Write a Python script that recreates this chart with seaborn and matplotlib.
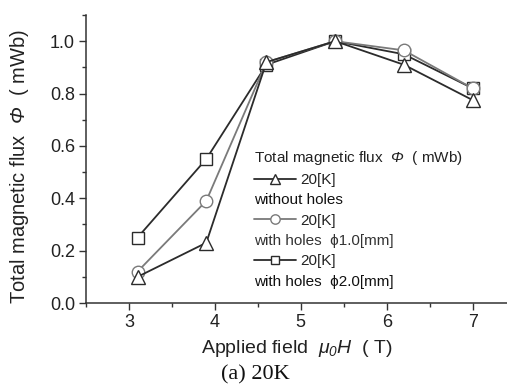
import numpy as np
import pandas as pd
import matplotlib
matplotlib.use("Agg")
import matplotlib.pyplot as plt
import seaborn as sns
from matplotlib.lines import Line2D
from matplotlib.ticker import MultipleLocator

sns.set_style("ticks")
plt.rcParams['font.family'] = ['Liberation Sans', 'DejaVu Sans']
plt.rcParams['mathtext.fontset'] = 'custom'
plt.rcParams['mathtext.rm'] = 'Liberation Sans:italic'
plt.rcParams['mathtext.it'] = 'Liberation Sans:italic'

# ---- data ----
field = [3.1, 3.9, 4.6, 5.4, 6.2, 7.0]
flux_no_holes = [0.10, 0.23, 0.92, 1.00, 0.91, 0.775]
flux_holes_1mm = [0.12, 0.39, 0.92, 1.00, 0.965, 0.82]
flux_holes_2mm = [0.25, 0.55, 0.91, 1.00, 0.95, 0.82]
series_names = ["without holes", "with holes 1.0", "with holes 2.0"]
legend_rows = ["20[K]", "without holes", "20[K]", "with holes  ϕ1.0[mm]", "20[K]", "with holes  ϕ2.0[mm]"]
xticks = [3, 4, 5, 6, 7]
yticks = [0.0, 0.2, 0.4, 0.6, 0.8, 1.0]

df = pd.DataFrame({
    "field": field * 3,
    "flux": flux_no_holes + flux_holes_1mm + flux_holes_2mm,
    "series": sum([[n] * len(field) for n in series_names], []),
})

colors = {series_names[0]: "#2b2b2b", series_names[1]: "#7a7a7a", series_names[2]: "#2b2b2b"}
markers = {series_names[0]: "^", series_names[1]: "o", series_names[2]: "s"}
sizes = {series_names[0]: 10, series_names[1]: 9, series_names[2]: 8.5}

fig = plt.figure(figsize=(5.07, 3.90), dpi=100)
ax = fig.add_axes([86 / 507, 1 - 303 / 390, 1 - 86 / 507, (303 - 15) / 390])

# draw in order: square, circle, triangle (triangle on top)
for name in [series_names[2], series_names[1], series_names[0]]:
    sub = df[df["series"] == name]
    sns.lineplot(data=sub, x="field", y="flux", ax=ax, color=colors[name],
                 marker=markers[name], markersize=sizes[name],
                 markerfacecolor="white", markeredgecolor=colors[name],
                 markeredgewidth=1.0, linewidth=1.3, legend=False)

ax.set_xlim(2.5, 7.4)
ax.set_ylim(0, 1.1)
ax.set_xticks(xticks)
ax.set_yticks(yticks)
ax.set_yticklabels([f"{v:.1f}" for v in yticks])
ax.xaxis.set_minor_locator(MultipleLocator(0.5))
ax.yaxis.set_minor_locator(MultipleLocator(0.1))
ax.tick_params(axis="both", which="major", direction="out", length=5, width=1,
               colors="#333333", labelsize=13, labelcolor="#222222", pad=3)
ax.tick_params(axis="both", which="minor", direction="out", length=3, width=1, colors="#333333")
for s in ["top", "right"]:
    ax.spines[s].set_visible(False)
for s in ["left", "bottom"]:
    ax.spines[s].set_color("#333333")
    ax.spines[s].set_linewidth(1.1)

ax.set_xlabel(r"Applied field  $μ_0 H$  ( T)", fontsize=14, color="#222222", labelpad=5)
ax.set_ylabel(r"Total magnetic flux  $Φ$  ( mWb)", fontsize=14.5, color="#222222")
ax.yaxis.set_label_coords(-0.13, 0.475)

# legend
handle_map = {}
for line in ax.lines:
    for name in series_names:
        if line.get_marker() == markers[name]:
            handle_map[name] = line
blank = Line2D([], [], linestyle="none", marker="none")
handles = [handle_map[series_names[0]], blank, handle_map[series_names[1]], blank,
           handle_map[series_names[2]], blank]
leg = ax.legend(handles, legend_rows, title=r"Total magnetic flux  $Φ$  ( mWb)",
                loc="upper left", bbox_to_anchor=(0.40, 0.535), frameon=False,
                fontsize=11, title_fontsize=11, handlelength=2.7, handletextpad=0.3,
                labelspacing=0.41, borderpad=0, borderaxespad=0, alignment="left",
                markerscale=0.75)
leg.get_title().set_color("#222222")
for i, t in enumerate(leg.get_texts()):
    t.set_color("#111111" if i % 2 == 1 else "#222222")
leg.get_texts()[3].set_color("#333333")
# remove the handle area for the sub-label rows
col = leg._legend_handle_box.get_children()[0]
for i, item in enumerate(col.get_children()):
    if i % 2 == 1:
        item.sep = 0
        item.get_children()[0].width = 0

fig.text(255 / 507, 1 - 375 / 390, "(a) 20K", ha="center", va="center",
         fontsize=16, family="Liberation Serif", color="#111111")

fig.savefig("out.png", dpi=100)
